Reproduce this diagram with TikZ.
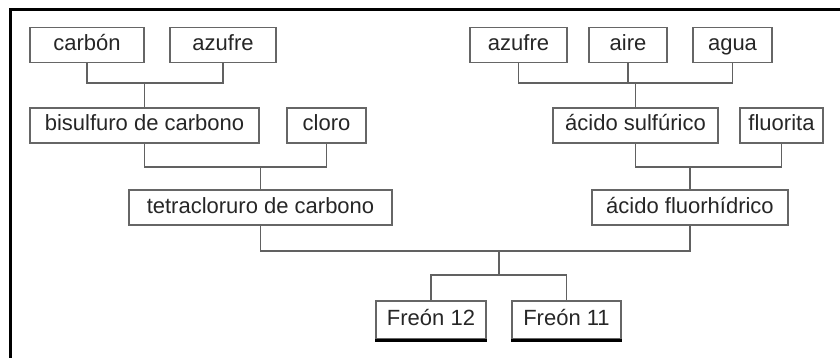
\documentclass[tikz,border=0pt]{standalone}
\usepackage{fontspec}
\setmainfont{Liberation Sans}
\begin{document}
\begin{tikzpicture}[x=1pt,y=-1pt,
  box/.style={draw=black!60,line width=1.1pt,inner sep=0pt,anchor=center,
    minimum height=35pt,text=black!85,text height=15.5pt,text depth=4.5pt,
    font=\fontsize{22}{24}\selectfont},
  conn/.style={draw=black!62,line width=1.3pt},
  frame/.style={line width=3pt,black}]
\useasboundingbox (0,0) rectangle (840,358);
\draw[frame] (10,358) -- (10,10) -- (840,10);
% row 1
\node[box,minimum width=114pt] (carbon) at (87,45) {carbón};
\node[box,minimum width=106pt] (azufreL) at (223,45) {azufre};
\node[box,minimum width=97pt] (azufreR) at (518.5,45) {azufre};
\node[box,minimum width=78pt] (aire) at (628,45) {aire};
\node[box,minimum width=79pt] (agua) at (732.5,45) {agua};
% row 2
\node[box,minimum width=229pt] (bisulfuro) at (144.5,125.5) {bisulfuro de carbono};
\node[box,minimum width=79pt] (cloro) at (326.5,125.5) {cloro};
\node[box,minimum width=165pt] (sulfurico) at (635.5,125.5) {ácido sulfúrico};
\node[box,minimum width=83pt] (fluorita) at (781.5,125.5) {fluorita};
% row 3
\node[box,minimum width=263pt] (tetra) at (260.5,207.5) {tetracloruro de carbono};
\node[box,minimum width=196pt] (fluorh) at (690,207.5) {ácido fluorhídrico};
% row 4
\node[box,minimum width=110pt,minimum height=38pt] (freon12) at (431,320) {Freón 12};
\node[box,minimum width=109pt,minimum height=38pt] (freon11) at (566.5,320) {Freón 11};
\draw[line width=3pt,black] ([yshift=-0.5pt]freon12.south west) -- ([yshift=-0.5pt]freon12.south east);
\draw[line width=3pt,black] ([yshift=-0.5pt]freon11.south west) -- ([yshift=-0.5pt]freon11.south east);
% junctions
\coordinate (j1) at (146,83);
\coordinate (j2) at (638,83);
\coordinate (j3) at (261,167);
\coordinate (j4) at (692,167);
\coordinate (j5) at (499,251);
\coordinate (j6) at (499,275);
% connectors
\draw[conn] (carbon.south) -- (carbon.south |- j1) -| (azufreL.south);
\draw[conn] (bisulfuro.north) -- (bisulfuro.north |- j1);
\draw[conn] (azufreR.south) -- (azufreR.south |- j2) -| (agua.south);
\draw[conn] (aire.south) -- (aire.south |- j2);
\draw[conn] (sulfurico.north) -- (sulfurico.north |- j2);
\draw[conn] (bisulfuro.south) -- (bisulfuro.south |- j3) -| (cloro.south);
\draw[conn] (tetra.north) -- (tetra.north |- j3);
\draw[conn] (sulfurico.south) -- (sulfurico.south |- j4) -| (fluorita.south);
\draw[conn] (fluorh.north) -- (fluorh.north |- j4);
\draw[conn] (tetra.south) -- (tetra.south |- j5) -| (fluorh.south);
\draw[conn] (j5) -- (j6);
\draw[conn] (freon12.north) -- (freon12.north |- j6) -| (freon11.north);
\end{tikzpicture}
\end{document}
